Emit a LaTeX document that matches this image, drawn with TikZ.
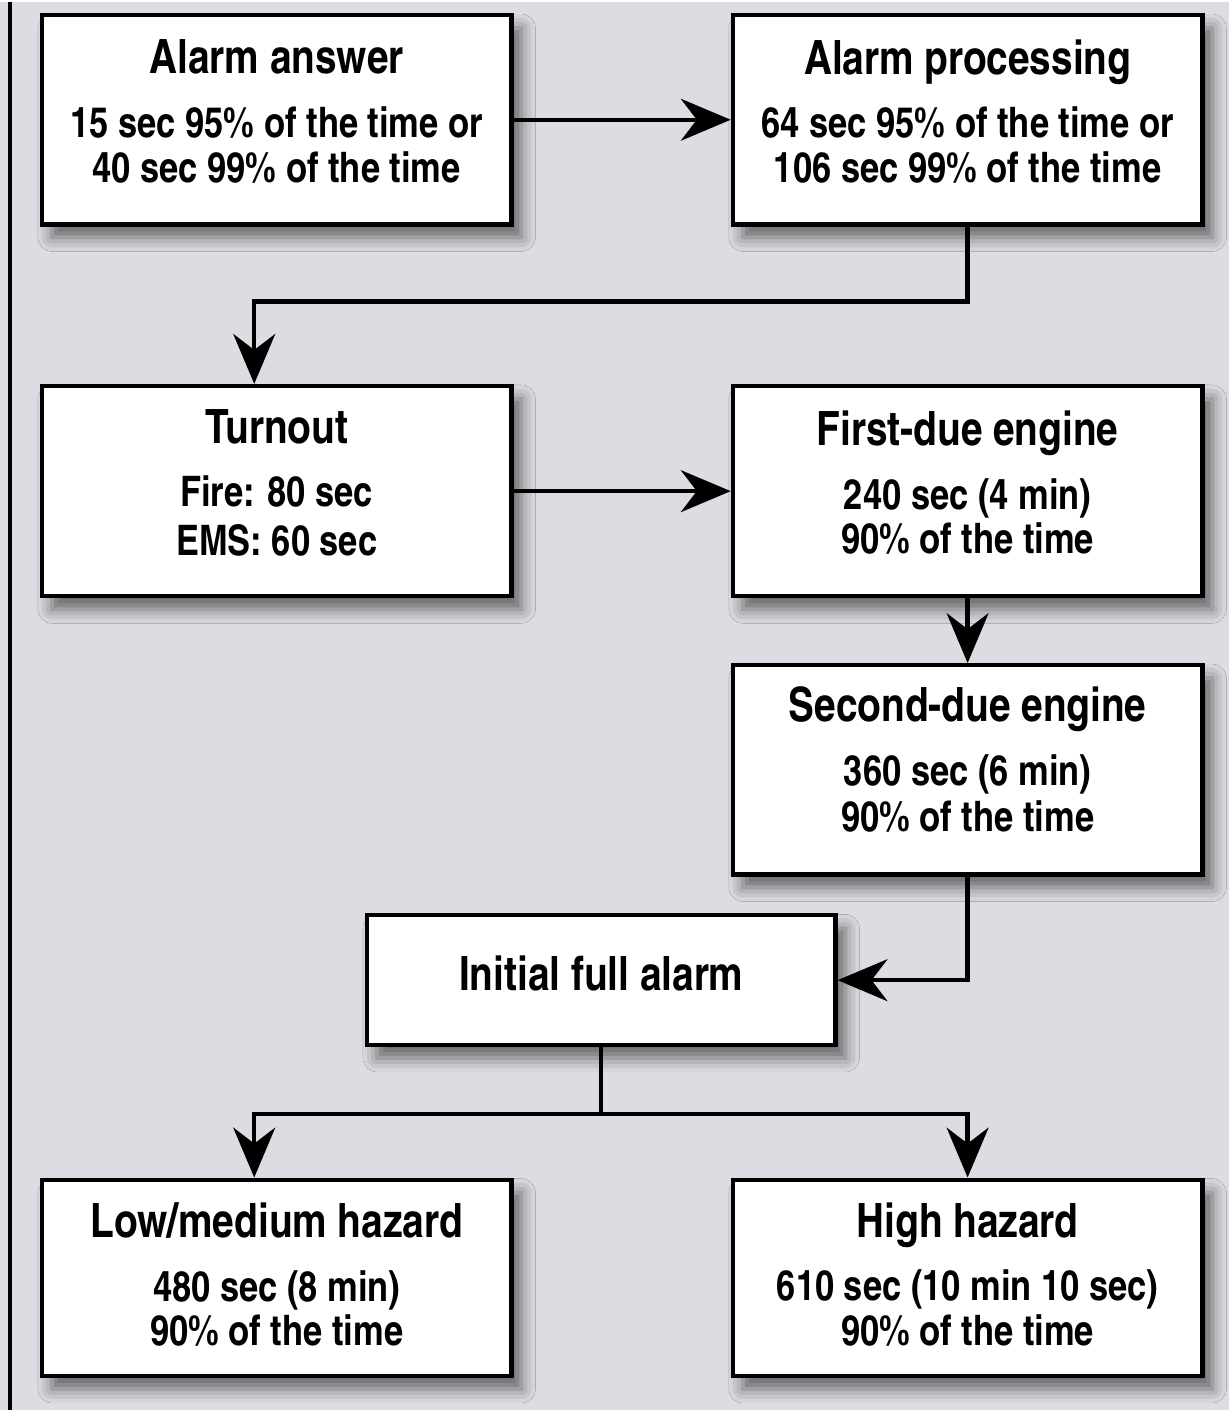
\documentclass[tikz,border=0pt]{standalone}
\usepackage{fontspec}
\setmainfont{texgyreheroscn}[Extension=.otf,UprightFont=*-regular,BoldFont=*-bold,ItalicFont=*-italic,BoldItalicFont=*-bolditalic]
\usetikzlibrary{arrows.meta,shadows.blur,positioning}
\definecolor{panel}{RGB}{220,221,226}
\newcommand{\boxhead}[1]{{\fontsize{13.5}{15}\selectfont #1}\\[5.3pt]}
\newcommand{\boxtail}[1]{\rule[-#1]{0pt}{0pt}}

\begin{document}
\begin{tikzpicture}[
    box/.style={draw,line width=1.2pt,fill=white,minimum width=4.71cm,align=center,
      font=\bfseries\fontsize{12}{12.8}\selectfont,
      blur shadow={shadow xshift=0.1cm,shadow yshift=-0.13cm,shadow blur radius=0.14cm,shadow opacity=55}},
    link/.style={line width=1.25pt,-{Stealth[length=5mm,width=4.2mm,inset=1.6mm]}}]
  \fill[panel] (0,0) rectangle (12.33,-14.12);
  \draw[line width=1.2pt] (0.1,0) -- (0.1,-14.12);
  \useasboundingbox (0,0) rectangle (12.33,-14.12);
  % boxes
  \node[box,minimum height=2.1cm] (answer) at (2.775,-1.18)
    {\boxhead{Alarm answer}15 sec 95\% of the time or\\40 sec 99\% of the time\boxtail{5pt}};
  \node[box,minimum height=2.1cm] (processing) at (9.705,-1.18)
    {\boxhead{Alarm processing}64 sec 95\% of the time or\\106 sec 99\% of the time\boxtail{5pt}};
  \node[box,minimum height=2.11cm] (turnout) at (2.775,-4.905)
    {\boxhead{Turnout}Fire: 80 sec\\[1pt]EMS: 60 sec\boxtail{5pt}};
  \node[box,minimum height=2.11cm] (first) at (9.705,-4.905)
    {\boxhead{First-due engine}240 sec (4 min)\\90\% of the time\boxtail{5pt}};
  \node[box,minimum height=2.1cm] (second) at (9.705,-7.70)
    {\boxhead{Second-due engine}360 sec (6 min)\\[0.5pt]90\% of the time\boxtail{6pt}};
  \node[box,minimum height=1.3cm,minimum width=4.7cm,font=\bfseries\fontsize{13.5}{15}\selectfont] (full) at (6.03,-9.81)
    {Initial full alarm\boxtail{4pt}};
  \node[box,minimum height=1.97cm] (low) at (2.775,-12.795)
    {\boxhead{Low/medium hazard}480 sec (8 min)\\90\% of the time\boxtail{2pt}};
  \node[box,minimum height=1.97cm] (high) at (9.705,-12.795)
    {\boxhead{High hazard}610 sec (10 min 10 sec)\\90\% of the time\boxtail{2pt}};
  % connectors
  \draw[link] (answer) -- (processing);
  \draw[link] (processing.south) -- ++(0,-0.75) -| ([xshift=-0.225cm]turnout.north);
  \draw[link] (turnout) -- (first);
  \draw[link] (first) -- (second);
  \draw[link] (second.south) |- (full.east);
  \draw[line width=1.25pt] (full.south) -- ++(0,-0.67) coordinate (split);
  \draw[link] (split) -| ([xshift=-0.225cm]low.north);
  \draw[link] (split) -| (high.north);
\end{tikzpicture}
\end{document}
